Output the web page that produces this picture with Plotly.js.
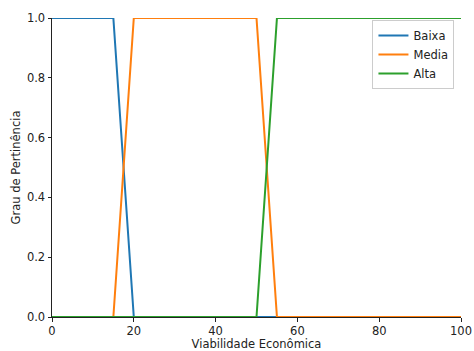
<!DOCTYPE html>
<html><head><meta charset="utf-8">
<script src="https://cdn.plot.ly/plotly-3.0.1.min.js"></script>
<style>body{margin:0;padding:0;background:#fff}#c{width:474px;height:351px}</style>
</head><body><div id="c"></div>
<script>
const seriesNames = ["Baixa", "Media", "Alta"];
const xBaixa = [0, 15, 20, 100];
const yBaixa = [1, 1, 0, 0];
const xMedia = [0, 15, 20, 50, 55, 100];
const yMedia = [0, 0, 1, 1, 0, 0];
const xAlta = [0, 50, 55, 100];
const yAlta = [0, 0, 1, 1];
const colors = ["#1f77b4", "#ff7f0e", "#2ca02c"];
const xTicks = [0, 20, 40, 60, 80, 100];
const yTicks = [0, 0.2, 0.4, 0.6, 0.8, 1.0];

const xs = [xBaixa, xMedia, xAlta], ys = [yBaixa, yMedia, yAlta];
const traces = seriesNames.map((n, i) => ({
  x: xs[i], y: ys[i], name: n, type: "scatter", mode: "lines",
  line: {color: colors[i], width: 2}, cliponaxis: false
}));
const font = {family: "DejaVu Sans", size: 11.5, color: "#222"};
const layout = {
  width: 474, height: 351,
  margin: {l: 52, r: 12.5, t: 18, b: 34},
  paper_bgcolor: "#fff", plot_bgcolor: "#fff",
  font: font, showlegend: true,
  xaxis: {range: [0, 100], tickvals: xTicks, ticktext: xTicks.map(String),
    showgrid: false, zeroline: false, showline: true, linecolor: "#222", linewidth: 1,
    ticks: "outside", ticklen: 3.5, tickcolor: "#222", tickwidth: 1,
    title: {text: "Viabilidade Econômica", font: font, standoff: 2}},
  yaxis: {range: [0, 1], tickvals: yTicks, ticktext: yTicks.map(v => v.toFixed(1)),
    showgrid: false, zeroline: false, showline: true, linecolor: "#222", linewidth: 1,
    ticks: "outside", ticklen: 3.5, tickcolor: "#222", tickwidth: 1,
    title: {text: "Grau de Pertinência", font: font, standoff: 3}},
  legend: {x: 0.984, y: 0.993, xanchor: "right", yanchor: "top",
    bgcolor: "rgba(255,255,255,0.8)", bordercolor: "#ccc", borderwidth: 1,
    font: font, tracegroupgap: 0}
};
Plotly.newPlot("c", traces, layout, {displayModeBar: false, staticPlot: true});
</script></body></html>
